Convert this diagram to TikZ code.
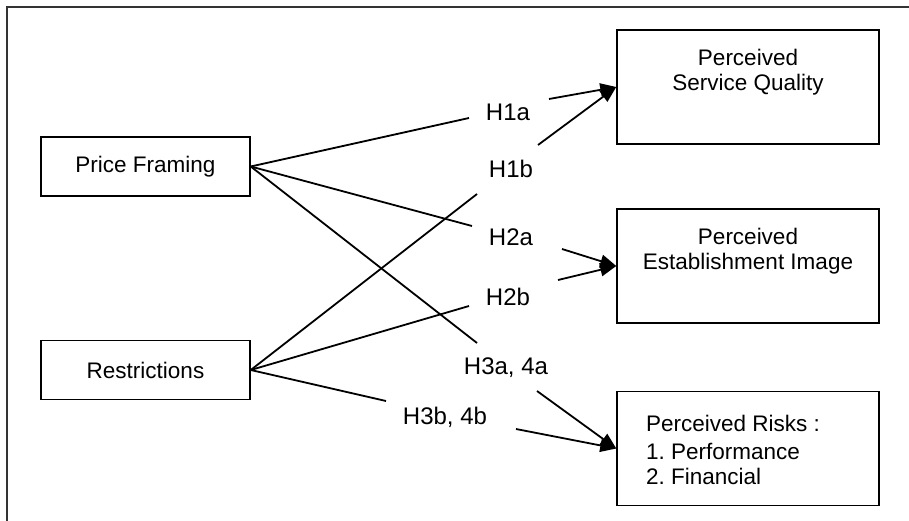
\documentclass[tikz,border=0pt]{standalone}
\usepackage{fontspec}
\setmainfont{Liberation Sans}
\usetikzlibrary{arrows.meta}
\frenchspacing
\begin{document}
\begin{tikzpicture}[x=1pt,y=-1pt,
  leftbox/.style={draw,line width=1.5pt,minimum width=209pt,minimum height=59pt,inner sep=0pt,font=\fontsize{22.5}{25}\selectfont},
  rightbox/.style={draw,line width=1.5pt,minimum width=262pt,minimum height=114pt,inner sep=0pt},
  boxtext/.style={align=center,inner sep=0pt,font=\fontsize{22.5}{25}\selectfont},
  hlabel/.style={inner sep=0pt,font=\fontsize{24}{28}\selectfont},
  link/.style={line width=1.8pt},
  arrowlink/.style={line width=1.8pt,-{Triangle[length=16pt,width=13pt]}}]
\useasboundingbox (0,0) rectangle (909,521);
% outer frame
\draw[line width=1.6pt,black!80] (7,540) -- (7,7) -- (930,7);
% boxes
\node[leftbox] (pf) at (145.5,166.5) {Price Framing};
\node[leftbox] (re) at (145.5,370) {Restrictions};
\node[rightbox] (psq) at (748,87) {};
\node[rightbox] (pei) at (748,266) {};
\node[rightbox] (risk) at (748,448.5) {};
\node[boxtext] (psqt) at (748,72) {Perceived\\Service Quality};
\node[boxtext] (peit) at (748,251) {Perceived\\Establishment Image};
\node[boxtext,align=left,anchor=west] (riskt) at (646,450) {Perceived Risks :\\[3pt]1. Performance\\2. Financial};
% labels
\node[hlabel] (h1a) at (508,112) {H1a};
\node[hlabel] (h1b) at (511,169) {H1b};
\node[hlabel] (h2a) at (511,237) {H2a};
\node[hlabel] (h2b) at (508,297) {H2b};
\node[hlabel] (h3a) at (506,368) {H3a, 4a};
\node[hlabel] (h3b) at (445,417) {H3b, 4b};
% connector break points
\coordinate (a1) at (469,118); \coordinate (b1) at (549,99);
\coordinate (a2) at (477,194); \coordinate (b2) at (538,145);
\coordinate (a3) at (472,226); \coordinate (b3) at (562,249);
\coordinate (a4) at (469,306); \coordinate (b4) at (558,280);
\coordinate (a5) at (477,343); \coordinate (b5) at (537,391);
\coordinate (a6) at (386,401); \coordinate (b6) at (516,429);
% connectors
\draw[link] (pf.east) -- (a1);
\draw[arrowlink] (b1) -- (psq.west);
\draw[link] (re.east) -- (a2);
\draw[arrowlink] (b2) -- (psq.west);
\draw[link] (pf.east) -- (a3);
\draw[arrowlink] (b3) -- (pei.west);
\draw[link] (re.east) -- (a4);
\draw[arrowlink] (b4) -- (pei.west);
\draw[link] (pf.east) -- (a5);
\draw[arrowlink] (b5) -- (risk.west);
\draw[link] (re.east) -- (a6);
\draw[arrowlink] (b6) -- (risk.west);
\end{tikzpicture}
\end{document}
